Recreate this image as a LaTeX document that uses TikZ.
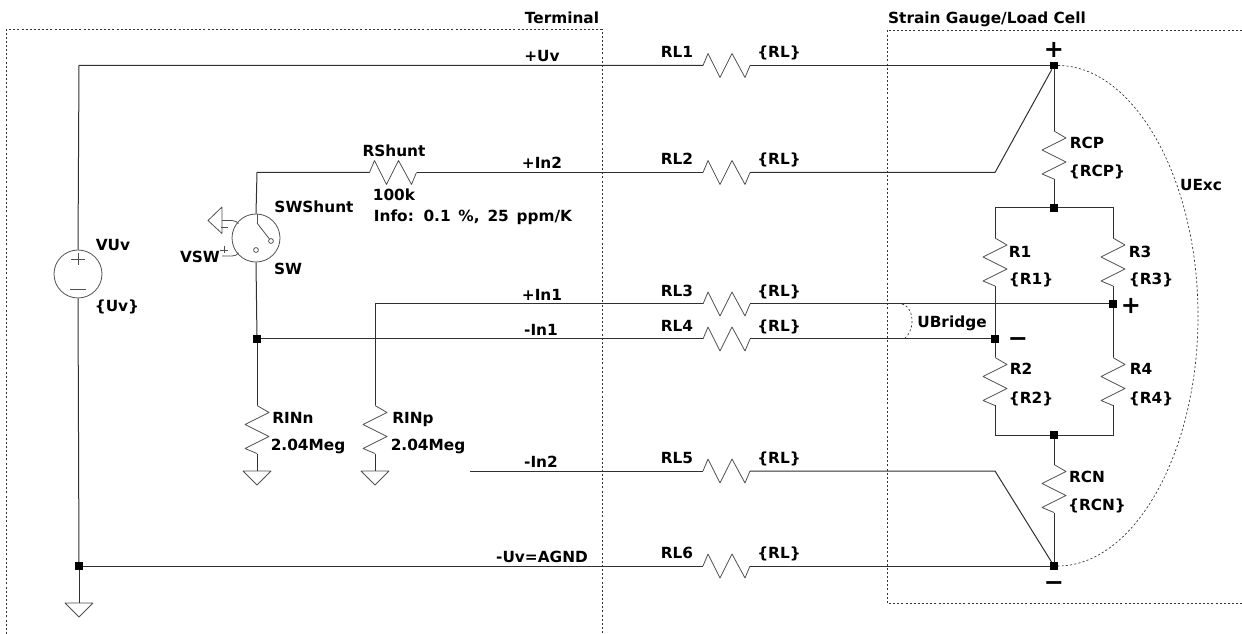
\documentclass[tikz,border=0pt]{standalone}
\usepackage{fontspec}
\setmainfont{DejaVu Sans}[BoldFont={DejaVu Sans Bold}]
\newfontfamily\bigsym{DejaVu Sans Bold}
\definecolor{wirec}{HTML}{303030}
\definecolor{symc}{HTML}{505050}
\tikzset{
  wire/.style={draw=wirec,line width=0.75pt},
  sym/.style={draw=symc,line width=0.6pt},
  dots/.style={draw=black!80,line width=0.7pt,dash pattern=on 1.5pt off 1.6pt},
  fine/.style={draw=black!80,line width=0.5pt,dash pattern=on 1.6pt off 1.6pt},
  lab/.style={inner sep=0pt,text height=8.4pt,text depth=0pt,font=\bfseries\fontsize{11.5pt}{13pt}\selectfont,text=black},
  bigmark/.style={inner sep=0pt,font=\bigsym\fontsize{18pt}{20pt}\selectfont},
  dotj/.style={fill=black,draw=none,minimum size=5.4pt,inner sep=0pt,shape=rectangle},
  hres/.pic={
    \coordinate (-a) at (-23.5,0);
    \coordinate (-b) at (23.5,0);
    \draw[sym,line join=round] (-23.5,0)--(-18.5,-12)--(-6.5,12)--(5.5,-12)--(18.5,12)--(23.5,0);
  },
  vres/.pic={
    \coordinate (-a) at (0,-24);
    \coordinate (-b) at (0,24);
    \draw[sym,line join=round] (0,-24)--(12,-17)--(-12,-5)--(12,7)--(-12,19)--(0,24);
  },
  gnd/.pic={
    \coordinate (-a) at (0,0);
    \draw[sym,line join=round] (-14,0)--(14,0)--(0,14)--cycle;
  },
}
\begin{document}
\begin{tikzpicture}[x=0.75pt,y=-0.75pt]
\useasboundingbox (0,0) rectangle (1242,634);
% frames
\draw[dots] (6,634)--(6,29.5)--(602,29.5)--(602,634);
\draw[dots] (1242,30)--(887,30)--(887,603)--(1242,603);
\node[lab] (tTerm) at (562,18) {Terminal};
\node[lab] (tStrain) at (987,18) {Strain Gauge/Load Cell};
% junctions
\node[dotj] (jTop) at (1054,65.5) {};
\node[dotj] (jBot) at (1054,566) {};
\node[dotj] (jGnd) at (79,566) {};
\node[dotj] (jBrT) at (1054,208) {};
\node[dotj] (jBrB) at (1054,435) {};
\node[dotj] (jP) at (1113,304) {};
\node[dotj] (jM) at (995,339) {};
\node[dotj] (jIn) at (257,339) {};
% sources and switch
\node[circle,sym,minimum size=36pt,inner sep=0pt] (VUv) at (78,274) {};
\node[circle,sym,minimum size=36pt,inner sep=0pt] (SW) at (256,238) {};
\draw[sym] (78,253)--(78,265) (71,259)--(85,259) (70,289)--(86,289);
\coordinate (swT) at (257,223);
\node[circle,sym,minimum size=3.6pt,inner sep=0pt] (swA) at (271,241) {};
\node[circle,sym,minimum size=3.6pt,inner sep=0pt] (swB) at (256,250) {};
\draw[sym] (swT)--(swA);
\draw[sym] (257,214)--(swT);
% series resistors
\foreach \n/\y in {RLa/65.5,RLb/172.5,RLc/304,RLd/339,RLe/471,RLf/566}{
  \pic (\n) at (726.5,\y) {hres};
}
\pic (RSh) at (393,172.5) {hres};
\pic (RCP) at (1054,155) {vres};
\pic (Ra) at (995,262) {vres};
\pic (Rc) at (1113,262) {vres};
\pic (Rb) at (995,381.5) {vres};
\pic (Rd) at (1113,381.5) {vres};
\pic (RCN) at (1054,488.5) {vres};
\pic (RINn) at (257,429.5) {vres};
\pic (RINp) at (375,429.5) {vres};
% grounds
\pic (G1) at (79,603) {gnd};
\pic (G2) at (257,471) {gnd};
\pic (G3) at (375,471) {gnd};
\draw[sym,line join=round] (208,220.5)--(222,207)--(222,233.5)--cycle;
\coordinate (gsw) at (222,220.5);
\coordinate (vsw) at (222,256);
\draw[sym] (gsw)--(232,220.5) .. controls (235,220.5) and (237,222) .. (238.5,223.5);
\draw[sym] (vsw)--(232,256) .. controls (235,256) and (237,255) .. (238.5,253);
\draw[sym] (221,227)--(228,227) (220,250)--(228,250) (224,246.5)--(224,253.5);
% wires
\coordinate (c1) at (79,65.5);
\coordinate (c2) at (257,172.5);
\coordinate (c3) at (375,304);
\coordinate (c4) at (995,172.5);
\coordinate (c5) at (470,471);
\coordinate (c6) at (995,471);
\draw[wire] (VUv.north)--(c1)--(RLa-a);
\draw[wire] (RLa-b)--(jTop);
\draw[wire] (VUv.south)--(jGnd);
\draw[wire] (jGnd)--(G1-a);
\draw[wire] (jGnd)--(RLf-a);
\draw[wire] (RLf-b)--(jBot);
\draw[wire] (SW.north)--(c2)--(RSh-a);
\draw[wire] (RSh-b)--(RLb-a);
\draw[wire] (RLb-b)--(c4)--(jTop);
\draw[wire] (jTop)--(RCP-a);
\draw[wire] (RCP-b)--(jBrT);
\draw[wire] (Ra-a)--(995,208)--(jBrT);
\draw[wire] (jBrT)--(1113,208)--(Rc-a);
\draw[wire] (Ra-b)--(jM);
\draw[wire] (jM)--(Rb-a);
\draw[wire] (Rc-b)--(jP);
\draw[wire] (jP)--(Rd-a);
\draw[wire] (Rb-b)--(995,435)--(jBrB);
\draw[wire] (jBrB)--(1113,435)--(Rd-b);
\draw[wire] (jBrB)--(RCN-a);
\draw[wire] (RCN-b)--(jBot);
\draw[wire] (SW.south)--(jIn);
\draw[wire] (jIn)--(RLd-a);
\draw[wire] (RLd-b)--(jM);
\draw[wire] (RINp-a)--(c3)--(RLc-a);
\draw[wire] (RLc-b)--(jP);
\draw[wire] (jIn)--(RINn-a);
\draw[wire] (RINn-b)--(G2-a);
\draw[wire] (RINp-b)--(G3-a);
\draw[wire] (c5)--(RLe-a);
\draw[wire] (RLe-b)--(c6)--(jBot);
% measurement arcs
\draw[fine] (jTop.east) .. controls (1133.5,65.5) and (1198,178) .. (1198,316) .. controls (1198,454) and (1133.5,566) .. (jBot.east);
\draw[fine] (902,304) .. controls (909,306) and (912,313) .. (912,321) .. controls (912,329) and (909,335) .. (904,339);
% wire labels
\node[lab] (lUv) at (542,56) {+Uv};
\node[lab] (lIn2) at (542,163) {+In2};
\node[lab] (lIn1) at (542,295) {+In1};
\node[lab] (lIn1n) at (541,330) {-In1};
\node[lab] (lIn2n) at (541,462) {-In2};
\node[lab] (lAGND) at (542,557) {-Uv=AGND};
\foreach \t/\y/\n in {RL1/52/a,RL2/159/b,RL3/291/c,RL4/326/d,RL5/458/e,RL6/553/f}{
  \node[lab] (n\n) at (677,\y) {\t};
  \node[lab] (v\n) at (779,\y) {\{RL\}};
}
\node[lab] (lRS) at (394,151) {RShunt};
\node[lab] (lRSv) at (394,195) {100k};
\node[lab] (lInfo) at (473,216) {\spaceskip=0.51em Info: 0.1 \%, 25 ppm/K};
\node[lab] (lSWS) at (314,207) {SWShunt};
\node[lab] (lSW) at (288,269) {SW};
\node[lab] (lVUv) at (113,245) {VUv};
\node[lab] (lUvv) at (117,306) {\{Uv\}};
\node[lab] (lVSW) at (200,257) {VSW};
\node[lab] (lRCP) at (1087,143) {RCP};
\node[lab] (lRCPv) at (1097,171) {\{RCP\}};
\node[lab] (lUExc) at (1201,185) {UExc};
\node[lab] (lR1) at (1020,252) {R1};
\node[lab] (lR1v) at (1031,279) {\{R1\}};
\node[lab] (lR3) at (1140,252) {R3};
\node[lab] (lR3v) at (1151,279) {\{R3\}};
\node[lab] (lUB) at (952,322) {UBridge};
\node[lab] (lR2) at (1021,369) {R2};
\node[lab] (lR2v) at (1031,398) {\{R2\}};
\node[lab] (lR4) at (1141,369) {R4};
\node[lab] (lR4v) at (1151,398) {\{R4\}};
\node[lab] (lRCN) at (1087,477) {RCN};
\node[lab] (lRCNv) at (1097,505) {\{RCN\}};
\node[lab] (lRn) at (293,418) {RINn};
\node[lab] (lRnv) at (308,445) {2.04Meg};
\node[lab] (lRp) at (413,418) {RINp};
\node[lab] (lRpv) at (428,445) {2.04Meg};
\node[bigmark] (pT) at (1054,50) {+};
\node[bigmark] (pB) at (1131,306) {+};
\node[bigmark] (mL) at (1018,342) {−};
\node[bigmark] (mB) at (1054,586) {−};
\end{tikzpicture}
\end{document}
